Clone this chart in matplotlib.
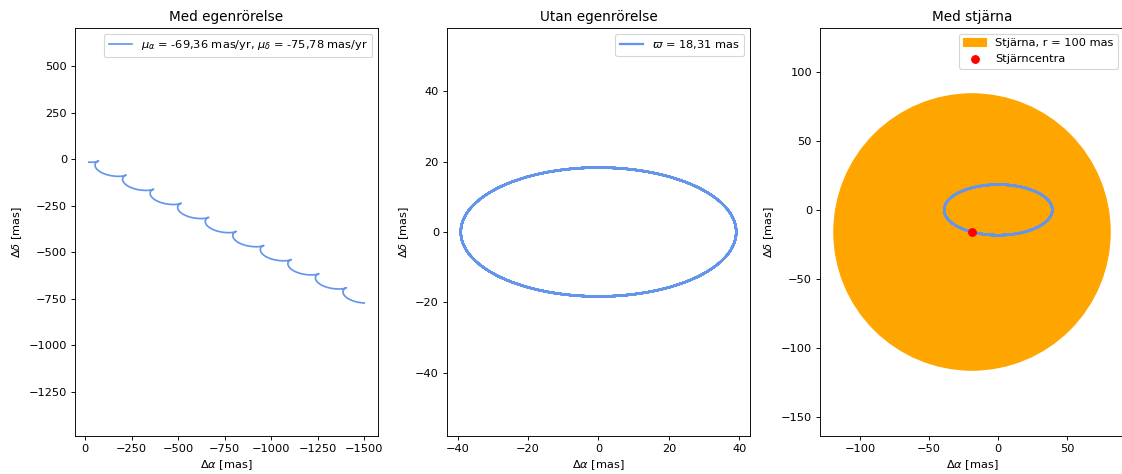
import numpy as np
import matplotlib
matplotlib.use('Agg')
import matplotlib.pyplot as plt
from matplotlib.patches import Circle

# Stjärnans parametrar
mu_alpha = -69.36      # mas/yr
mu_delta = -75.78      # mas/yr
parallax = 18.31       # mas
dec_deg = 62.1         # deklination, ger utsträckningen i alfa
theta0_deg = 241.0     # startfas på parallaxellipsen
n_years = 10
star_radius = 100      # mas

cos_dec = np.cos(np.radians(dec_deg))
t = np.linspace(0, n_years, 4000)
theta = np.radians(theta0_deg) - 2 * np.pi * t

# Parallaxellips
x_par = parallax / cos_dec * np.cos(theta)
y_par = parallax * np.sin(theta)

# Med egenrörelse
x_tot = x_par + mu_alpha / cos_dec * t
y_tot = y_par + mu_delta * t

center = (x_par[0], y_par[0])

line_col = 'cornflowerblue'

DPI = 82
W, H = 1122, 474
fig = plt.figure(figsize=(W / DPI, H / DPI), dpi=DPI)
ax1 = fig.add_axes([75 / W, 38 / H, 303 / W, 408 / H])
ax2 = fig.add_axes([447 / W, 38 / H, 303 / W, 408 / H])
ax3 = fig.add_axes([820 / W, 38 / H, 304 / W, 408 / H])

# Panel 1
ax1.plot(x_tot, y_tot, color=line_col,
         label=r'$\mu_\alpha$ = -69,36 mas/yr, $\mu_\delta$ = -75,78 mas/yr')
ax1.set_aspect('equal', adjustable='datalim')
ax1.invert_xaxis()
ax1.set_title('Med egenrörelse')
ax1.set_xlabel(r'$\Delta\alpha$ [mas]')
ax1.set_ylabel(r'$\Delta\delta$ [mas]')
ax1.legend(loc='upper right')

# Panel 2
ax2.plot(x_par, y_par, color=line_col, lw=2, label=r'$\varpi$ = 18,31 mas')
ax2.set_aspect('equal', adjustable='datalim')
ax2.set_title('Utan egenrörelse')
ax2.set_xlabel(r'$\Delta\alpha$ [mas]')
ax2.set_ylabel(r'$\Delta\delta$ [mas]')
ax2.legend(loc='upper right')

# Panel 3
star = Circle(center, star_radius, color='orange', zorder=1,
              label='Stjärna, r = 100 mas')
ax3.add_patch(star)
ax3.plot(x_par, y_par, color=line_col, lw=2, zorder=2)
ax3.scatter([center[0]], [center[1]], color='red', s=45, zorder=3,
            label='Stjärncentra')
ax3.set_aspect('equal', adjustable='datalim')
ax3.autoscale_view()
ax3.set_title('Med stjärna')
ax3.set_xlabel(r'$\Delta\alpha$ [mas]')
ax3.set_ylabel(r'$\Delta\delta$ [mas]')
ax3.legend(loc='upper right')

fig.savefig('out.png', dpi=DPI)
